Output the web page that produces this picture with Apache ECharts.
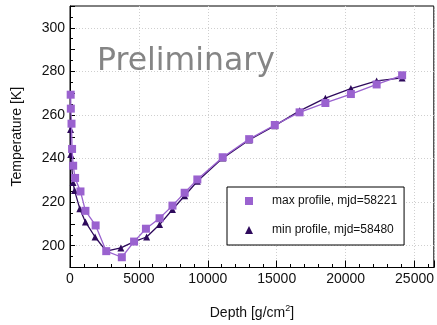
<!DOCTYPE html>
<html>
<head>
<meta charset="utf-8">
<script src="https://cdn.jsdelivr.net/npm/echarts@6/dist/echarts.min.js"></script>
<style>html,body{margin:0;padding:0;background:#fff;}#c{width:437px;height:325px;}</style>
</head>
<body>
<div id="c"></div>
<script>
// ---- data ----
const maxDepth = [50, 60, 110, 150, 230, 370, 760, 1120, 1860, 2630, 3760, 4650, 5510, 6500, 7435, 8320, 9240, 11080, 13000, 14860, 16660, 18530, 20380, 22250, 24100];
const maxTemp  = [269.3, 262.9, 256.0, 244.4, 236.7, 231.1, 224.9, 216.0, 209.3, 197.5, 194.7, 201.9, 207.8, 212.6, 218.4, 224.3, 230.4, 240.6, 248.9, 255.4, 261.2, 265.5, 269.6, 274.0, 278.2];
const minDepth = [40, 50, 220, 330, 710, 1120, 1820, 2630, 3690, 4650, 5560, 6500, 7435, 8320, 9240, 11080, 13000, 14860, 16660, 18530, 20380, 22250, 24100];
const minTemp  = [253.3, 241.9, 229.0, 225.3, 217.0, 210.9, 204.0, 197.5, 199.0, 201.9, 204.0, 209.7, 216.6, 222.9, 229.6, 240.2, 248.5, 255.1, 261.9, 267.7, 272.1, 275.6, 277.0];
const seriesNames = ['max profile, mjd=58221', 'min profile, mjd=58480'];
const xTickLabels = [0, 5000, 10000, 15000, 20000, 25000];
const yTickLabels = [200, 220, 240, 260, 280, 300];

const maxColor = '#9a62cf';
const minColor = '#2e0a5c';

const chart = echarts.init(document.getElementById('c'), null, {renderer: 'canvas'});
const pair = (xs, ys) => xs.map((x, i) => [x, ys[i]]);

chart.setOption({
  animation: false,
  backgroundColor: '#fff',
  textStyle: {fontFamily: 'Liberation Sans, Arial, sans-serif'},
  title: {
    text: 'Preliminary',
    left: 92, top: 41,
    textStyle: {fontFamily: 'DejaVu Sans', fontSize: 31.5, fontWeight: 'normal', color: '#858585'}
  },
  grid: {left: 70, right: 1, top: 6, height: 269, show: true, borderColor: '#000', borderWidth: 1, containLabel: false},
  legend: {
    data: [{name: seriesNames[0], icon: 'rect'}, {name: seriesNames[1], icon: 'triangle'}],
    orient: 'vertical',
    left: 227, top: 187,
    padding: [8, 7, 9, 18],
    itemGap: 17,
    itemWidth: 8, itemHeight: 8,
    backgroundColor: '#fff',
    borderColor: '#000', borderWidth: 1, borderRadius: 0,
    textStyle: {fontSize: 12, color: '#111', padding: [0, 0, 0, 14], fontFamily: 'Liberation Sans'}
  },
  xAxis: {
    type: 'value', min: 0, max: 26400, interval: 5000,
    name: 'Depth [g/cm{sup|2}]', nameLocation: 'middle', nameGap: 37,
    nameTextStyle: {fontSize: 14, color: '#111', fontFamily: 'Liberation Sans',
      rich: {sup: {fontSize: 9, verticalAlign: 'top', padding: [0, 0, 8, 0], color: '#111', fontFamily: 'Liberation Sans'}}},
    axisLine: {lineStyle: {color: '#000', width: 1}},
    axisTick: {inside: true, length: 7, lineStyle: {color: '#000'}},
    minorTick: {show: true, splitNumber: 5, length: 3.5, lineStyle: {color: '#000'}},
    axisLabel: {fontSize: 14, color: '#111', margin: 5,
      formatter: v => xTickLabels.indexOf(v) >= 0 ? String(v) : ''},
    splitLine: {show: true, lineStyle: {color: '#cfcfcf', type: [1, 2], width: 1}}
  },
  yAxis: {
    type: 'value', min: 190, max: 310, interval: 10,
    name: 'Temperature [K]', nameLocation: 'middle', nameGap: 46, nameRotate: 90,
    nameTextStyle: {fontSize: 14, color: '#111', fontFamily: 'Liberation Sans'},
    axisLine: {lineStyle: {color: '#000', width: 1}},
    axisTick: {inside: true, length: 5, lineStyle: {color: '#000'}},
    minorTick: {show: true, splitNumber: 2, length: 3, lineStyle: {color: '#000'}},
    axisLabel: {fontSize: 14, color: '#111', margin: 5,
      formatter: v => yTickLabels.indexOf(v) >= 0 ? String(v) : ''},
    splitLine: {show: true, lineStyle: {color: ['rgba(0,0,0,0)', '#cfcfcf'], type: [1, 2], width: 1}}
  },
  series: [
    {
      name: seriesNames[1], type: 'line', data: pair(minDepth, minTemp),
      symbol: 'triangle', symbolSize: 7, showAllSymbol: true,
      itemStyle: {color: minColor}, lineStyle: {color: minColor, width: 1.3}, z: 2
    },
    {
      name: seriesNames[0], type: 'line', data: pair(maxDepth, maxTemp),
      symbol: 'rect', symbolSize: 8, showAllSymbol: true,
      itemStyle: {color: maxColor}, lineStyle: {color: maxColor, width: 1.3}, z: 3
    }
  ]
});
</script>
</body>
</html>
